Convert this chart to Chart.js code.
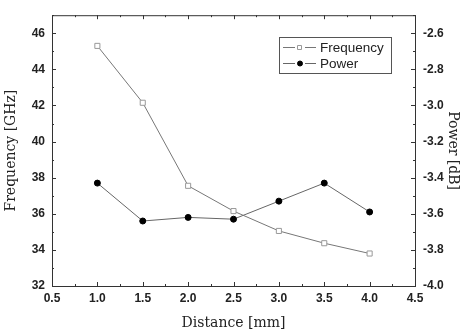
<!DOCTYPE html>
<html>
<head>
<meta charset="utf-8">
<script src="https://cdn.jsdelivr.net/npm/chart.js@4"></script>
<style>
  html, body { margin: 0; padding: 0; background: #fff; }
  #wrap { width: 465px; height: 332px; }
</style>
</head>
<body>
<div id="wrap"><canvas id="chart" width="465" height="332"></canvas></div>
<script>
const distances = [1.0, 1.5, 2.0, 2.5, 3.0, 3.5, 4.0];
const frequency = [45.3, 42.15, 37.55, 36.15, 35.05, 34.37, 33.8];
const power = [-3.43, -3.64, -3.62, -3.63, -3.53, -3.43, -3.59];
const seriesNames = ['Frequency', 'Power'];

const tickFont = { family: 'Liberation Sans, Arial, sans-serif', size: 12, weight: 'bold' };
const titleFont = { family: 'DejaVu Serif, serif', size: 14 };

// inward major + minor ticks on all four sides
const frameTicks = {
    id: 'frameTicks',
    afterDraw(chart) {
        const { ctx, chartArea: a, scales } = chart;
        ctx.save();
        ctx.strokeStyle = '#333';
        ctx.lineWidth = 1;
        const x = scales.x, yl = scales.y, yr = scales.y1;
        ctx.beginPath();
        for (let i = 0; i <= 16; i++) {
            const v = 0.5 + i * 0.25;
            const px = Math.round(x.getPixelForValue(v)) + 0.5;
            const len = i % 2 === 0 ? 4 : 2;
            ctx.moveTo(px, a.bottom); ctx.lineTo(px, a.bottom - len);
            ctx.moveTo(px, a.top); ctx.lineTo(px, a.top + len);
        }
        for (let v = 32; v <= 47; v += 1) {
            const py = Math.round(yl.getPixelForValue(v)) + 0.5;
            const len = v % 2 === 0 ? 4 : 2;
            ctx.moveTo(a.left, py); ctx.lineTo(a.left + len, py);
        }
        for (let i = 0; i <= 15; i++) {
            const v = -4 + i * 0.1;
            const py = Math.round(yr.getPixelForValue(v)) + 0.5;
            const len = i % 2 === 0 ? 4 : 2;
            ctx.moveTo(a.right, py); ctx.lineTo(a.right - len, py);
        }
        ctx.stroke();
        ctx.strokeRect(a.left + 0.5, a.top + 0.5, a.right - a.left, a.bottom - a.top);
        ctx.restore();
    }
};

// legend box inside the plot area
const insideLegend = {
    id: 'insideLegend',
    afterDraw(chart) {
        const { ctx } = chart;
        const bx = 279, by = 37, bw = 112, bh = 36;
        ctx.save();
        ctx.fillStyle = '#fff';
        ctx.fillRect(bx, by, bw, bh);
        ctx.strokeStyle = '#555';
        ctx.lineWidth = 1;
        ctx.strokeRect(bx + 0.5, by + 0.5, bw, bh);
        ctx.font = '13.5px Liberation Sans, Arial, sans-serif';
        ctx.textBaseline = 'middle';
        chart.data.datasets.forEach((ds, i) => {
            const cy = by + 10 + i * 16;
            ctx.strokeStyle = ds.borderColor;
            ctx.beginPath();
            ctx.moveTo(bx + 4, cy + 0.5); ctx.lineTo(bx + 16, cy + 0.5);
            ctx.moveTo(bx + 26, cy + 0.5); ctx.lineTo(bx + 37, cy + 0.5);
            ctx.stroke();
            ctx.fillStyle = ds.pointBackgroundColor;
            ctx.strokeStyle = ds.pointBorderColor;
            ctx.beginPath();
            if (ds.pointStyle === 'rect') {
                ctx.rect(bx + 18.5, cy - 1.5, 4, 4);
            } else {
                ctx.arc(bx + 21, cy + 0.5, 2.5, 0, Math.PI * 2);
            }
            ctx.fill(); ctx.stroke();
            ctx.fillStyle = '#222';
            ctx.fillText(ds.label, bx + 41, cy + 1);
        });
        ctx.restore();
    }
};

new Chart(document.getElementById('chart'), {
    type: 'line',
    data: {
        datasets: [
            {
                label: seriesNames[0],
                data: distances.map((d, i) => ({ x: d, y: frequency[i] })),
                yAxisID: 'y',
                borderColor: '#777',
                borderWidth: 1,
                pointStyle: 'rect',
                pointRadius: 3.6,
                pointBackgroundColor: '#fff',
                pointBorderColor: '#999',
                pointBorderWidth: 1,
                tension: 0
            },
            {
                label: seriesNames[1],
                data: distances.map((d, i) => ({ x: d, y: power[i] })),
                yAxisID: 'y1',
                borderColor: '#666',
                borderWidth: 1,
                pointStyle: 'circle',
                pointRadius: 3,
                pointBackgroundColor: '#000',
                pointBorderColor: '#000',
                pointBorderWidth: 1,
                tension: 0
            }
        ]
    },
    options: {
        responsive: false,
        animation: false,
        layout: { padding: { top: 7, left: 0, right: 0, bottom: 0 } },
        plugins: { legend: { display: false }, tooltip: { enabled: false } },
        scales: {
            x: {
                type: 'linear',
                min: 0.5, max: 4.5,
                grid: { display: false, drawTicks: false },
                border: { display: false },
                ticks: {
                    stepSize: 0.5, padding: 5, color: '#222', font: tickFont,
                    maxRotation: 0,
                    callback: v => v.toFixed(1)
                },
                title: { display: true, text: 'Distance [mm]', color: '#222', font: titleFont, padding: { top: 4, bottom: 0 } },
                afterFit: s => { s.height = 46; }
            },
            y: {
                position: 'left',
                min: 32, max: 47,
                grid: { display: false, drawTicks: false },
                border: { display: false },
                ticks: { stepSize: 2, includeBounds: false, padding: 7, color: '#222', font: tickFont },
                title: { display: true, text: 'Frequency [GHz]', color: '#222', font: titleFont, padding: { top: 3, bottom: 0 } },
                afterFit: s => { s.width = 52; }
            },
            y1: {
                position: 'right',
                min: -4.0, max: -2.5,
                grid: { display: false, drawTicks: false },
                border: { display: false },
                ticks: {
                    stepSize: 0.2, includeBounds: false, padding: 8, color: '#222', font: tickFont,
                    callback: v => v.toFixed(1)
                },
                title: { display: true, text: 'Power [dB]', color: '#222', font: titleFont, padding: { top: 4, bottom: 0 } },
                afterFit: s => { s.width = 50; }
            }
        }
    },
    plugins: [frameTicks, insideLegend]
});
</script>
</body>
</html>
